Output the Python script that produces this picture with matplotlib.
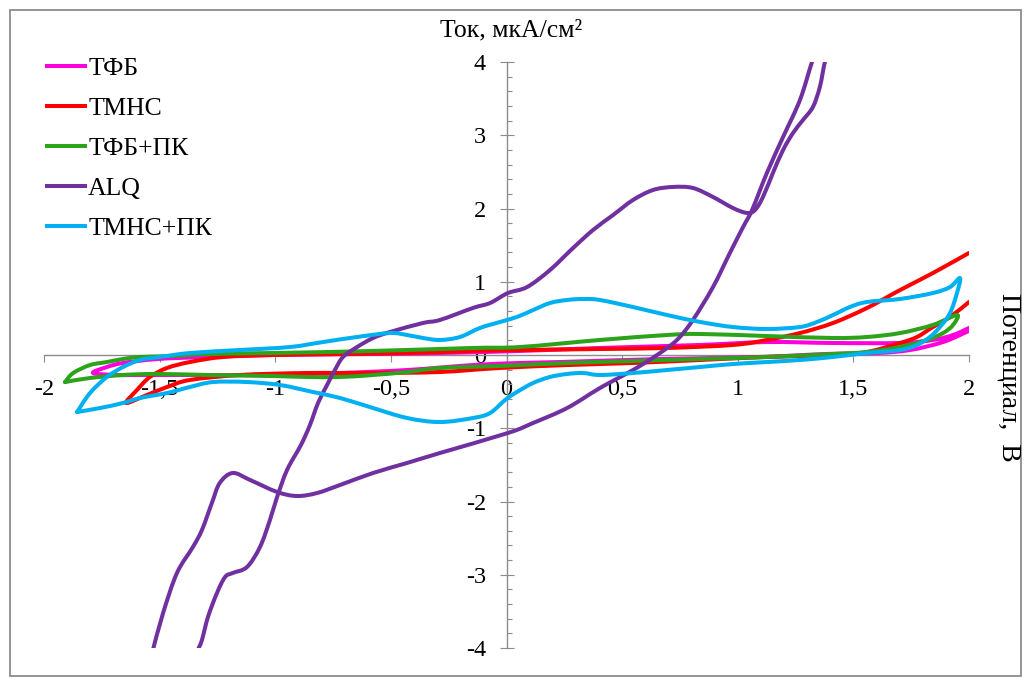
import matplotlib
matplotlib.use("Agg")
import numpy as np
import matplotlib.pyplot as plt
from matplotlib.patches import Rectangle, PathPatch
from matplotlib.path import Path
from matplotlib.lines import Line2D

plt.rcParams['font.family'] = ['Liberation Serif', 'DejaVu Serif']
plt.rcParams['axes.unicode_minus'] = False

# cyclic voltammograms, potential (V) vs current density (uA/cm2)
tfb_x = [2.0, 1.888, 1.745, 1.602, 1.386, 1.096, 0.664, 0.231, 0.058, -0.145, -0.430, -0.720,
         -1.009, -1.295, -1.585, -1.685, -1.788,
         -1.728, -1.658, -1.511, -1.295, -1.009, -0.577, -0.288, 0.058, 0.404, 0.837,
         1.126, 1.412, 1.702, 1.844, 1.931, 2.0]
tfb_y = [0.33, 0.177, 0.068, 0.027, 0.014, -0.027, -0.055, -0.096, -0.109, -0.137, -0.205, -0.246,
         -0.273, -0.273, -0.273, -0.273, -0.246,
         -0.164, -0.109, -0.055, -0.027, 0.0, 0.014, 0.027, 0.055, 0.096, 0.137,
         0.177, 0.164, 0.164, 0.205, 0.273, 0.369]

tmns_x = [2.0, 1.918, 1.844, 1.775, 1.702, 1.559, 1.412, 1.126, 0.837, 0.547, 0.262, -0.028,
          -0.288, -0.577, -0.863, -1.153, -1.369, -1.468, -1.555, -1.645,
          -1.598, -1.542, -1.468, -1.369, -1.226, -1.009, -0.720, -0.430, -0.145, 0.058,
          0.404, 0.694, 0.979, 1.126, 1.269, 1.412, 1.559, 1.702, 1.844, 2.0]
tmns_y = [0.724, 0.519, 0.382, 0.246, 0.164, 0.041, 0.0, -0.027, -0.068, -0.109, -0.137, -0.177,
          -0.232, -0.246, -0.246, -0.273, -0.341, -0.437, -0.546, -0.655,
          -0.478, -0.300, -0.177, -0.096, -0.027, 0.0, 0.014, 0.027, 0.055, 0.068,
          0.082, 0.096, 0.137, 0.205, 0.300, 0.437, 0.642, 0.887, 1.119, 1.393]

tfb_pk_x = [-1.909, -1.874, -1.801, -1.728, -1.658, -1.585, -1.442, -1.295, -1.009, -0.577, -0.145,
            0.058, 0.404, 0.694, 0.837, 1.126, 1.412, 1.559, 1.702, 1.844, 1.948,
            1.931, 1.888, 1.818, 1.702, 1.559, 1.412, 1.126, 0.837, 0.547, 0.262, -0.028,
            -0.288, -0.430, -0.577, -0.720, -0.863, -1.009, -1.295, -1.511, -1.658, -1.801, -1.909]
tfb_pk_y = [-0.369, -0.246, -0.137, -0.096, -0.055, -0.027, -0.014, 0.014, 0.027, 0.055, 0.096,
            0.109, 0.205, 0.273, 0.287, 0.259, 0.232, 0.246, 0.300, 0.410, 0.546,
            0.410, 0.300, 0.205, 0.109, 0.041, 0.014, -0.027, -0.055, -0.082, -0.109, -0.150,
            -0.177, -0.232, -0.273, -0.300, -0.300, -0.287, -0.273, -0.259, -0.273, -0.314, -0.369]

alq_x = [-1.529, -1.485, -1.425, -1.356, -1.317, -1.274, -1.240, -1.184, -1.109, -0.992, -0.906,
         -0.819, -0.720, -0.577, -0.430, -0.288, 0.006, 0.115, 0.262, 0.404, 0.547, 0.651,
         0.737, 0.806, 0.893, 0.966, 1.023, 1.062, 1.126, 1.196, 1.269, 1.321, 1.343,
         1.399, 1.377, 1.355, 1.325, 1.282, 1.239, 1.196, 1.152, 1.109, 1.075, 1.040, 0.979,
         0.893, 0.806, 0.720, 0.634, 0.547, 0.461, 0.374, 0.288, 0.188, 0.089, 0.006, -0.071,
         -0.145, -0.288, -0.361, -0.504, -0.577, -0.646, -0.707, -0.742, -0.776, -0.815,
         -0.850, -0.889, -0.949, -0.992, -1.023, -1.066, -1.122, -1.184, -1.217, -1.252,
         -1.291, -1.317, -1.334, -1.343]
alq_y = [-4.027, -3.522, -2.976, -2.621, -2.389, -2.020, -1.747, -1.611, -1.706, -1.870, -1.925,
         -1.884, -1.775, -1.611, -1.474, -1.338, -1.065, -0.928, -0.724, -0.451, -0.205, 0.0,
         0.205, 0.478, 0.928, 1.393, 1.747, 1.980, 2.485, 2.976, 3.481, 4.0, 4.16,
         4.16, 4.0, 3.659, 3.386, 3.208, 3.031, 2.799, 2.485, 2.157, 1.980, 1.939, 2.007,
         2.157, 2.280, 2.294, 2.253, 2.116, 1.911, 1.706, 1.461, 1.160, 0.928, 0.846, 0.710,
         0.642, 0.478, 0.437, 0.314, 0.232, 0.109, -0.027, -0.205, -0.410, -0.655,
         -0.956, -1.229, -1.570, -1.939, -2.253, -2.621, -2.894, -2.976, -3.031, -3.249,
         -3.577, -3.891, -4.027, -4.16]

tmns_pk_x = [-1.857, -1.801, -1.728, -1.658, -1.585, -1.498, -1.369, -1.153, -0.936, -0.794, -0.646,
             -0.504, -0.430, -0.361, -0.288, -0.201, -0.115, -0.028, 0.045, 0.115, 0.188, 0.262,
             0.331, 0.404, 0.547, 0.694, 0.837, 0.979, 1.126, 1.269, 1.343, 1.412, 1.485, 1.559,
             1.702, 1.844, 1.918, 1.961,
             1.948, 1.918, 1.874, 1.831, 1.775, 1.702, 1.559, 1.412, 1.269, 1.126, 0.979, 0.837,
             0.694, 0.547, 0.404, 0.331, 0.262, 0.188, 0.115, 0.045, -0.006, -0.071, -0.145,
             -0.288, -0.430, -0.577, -0.720, -0.837, -0.979, -1.122, -1.269, -1.369, -1.468,
             -1.585, -1.658, -1.758, -1.857]
tmns_pk_y = [-0.778, -0.519, -0.300, -0.164, -0.068, -0.027, 0.027, 0.068, 0.109, 0.177, 0.246,
             0.300, 0.273, 0.232, 0.205, 0.246, 0.369, 0.451, 0.519, 0.614, 0.710, 0.751,
             0.765, 0.751, 0.655, 0.546, 0.451, 0.382, 0.355, 0.382, 0.451, 0.546, 0.655, 0.724,
             0.765, 0.846, 0.928, 1.051,
             0.846, 0.573, 0.382, 0.246, 0.137, 0.068, 0.027, -0.027, -0.068, -0.096, -0.123, -0.164,
             -0.205, -0.246, -0.273, -0.246, -0.259, -0.300, -0.382, -0.505, -0.614, -0.792, -0.860,
             -0.915, -0.860, -0.724, -0.587, -0.505, -0.410, -0.369, -0.369, -0.437, -0.519,
             -0.587, -0.655, -0.724, -0.778]

series = [
    ('ТФБ', tfb_x, tfb_y, '#FF00DD'),
    ('ТМНС', tmns_x, tmns_y, '#FF0000'),
    ('ТФБ+ПК', tfb_pk_x, tfb_pk_y, '#2CA31A'),
    ('ALQ', alq_x, alq_y, '#7030A0'),
    ('ТМНС+ПК', tmns_pk_x, tmns_pk_y, '#00B0F0'),
]

x_ticks = [-2, -1.5, -1, -0.5, 0, 0.5, 1, 1.5, 2]
x_labels = ['-2', '-1,5', '-1', '-0,5', '0', '0,5', '1', '1,5', '2']
y_ticks = [-4, -3, -2, -1, 0, 1, 2, 3, 4]
y_labels = ['-4', '-3', '-2', '-1', '0', '1', '2', '3', '4']


def smooth_path(xs, ys):
    # smoothed line through the points (cubic Bezier segments, Catmull-Rom tangents)
    p = np.column_stack([xs, ys])
    n = len(p)
    verts = [p[0]]
    codes = [Path.MOVETO]
    for i in range(n - 1):
        p0 = p[max(i - 1, 0)]
        p1, p2 = p[i], p[i + 1]
        p3 = p[min(i + 2, n - 1)]
        verts += [p1 + (p2 - p0) / 6, p2 - (p3 - p1) / 6, p2]
        codes += [Path.CURVE4] * 3
    return Path(verts, codes)


fig = plt.figure(figsize=(10.26, 6.79), dpi=100)
fig.patches.append(Rectangle((10/1026, 3/679), 1011/1026, 666/679, transform=fig.transFigure,
                             fill=False, edgecolor='#8C8C8C', lw=1.3))
ax = fig.add_axes([44/1026, 1-648/679, 925/1026, 586/679])

handles = []
for name, xs, ys, c in series:
    ax.add_patch(PathPatch(smooth_path(xs, ys), fill=False, edgecolor=c, lw=2.9, zorder=3,
                           capstyle='round', joinstyle='round'))
    handles.append(Line2D([], [], color=c, lw=2.9, label=name))

ax.set_xlim(-2, 2)
ax.set_ylim(-4, 4)
for s in ['top', 'right']:
    ax.spines[s].set_visible(False)
for s in ['left', 'bottom']:
    ax.spines[s].set_position(('data', 0))
    ax.spines[s].set_color('#8C8C8C')
    ax.spines[s].set_linewidth(1.0)

ax.set_xticks(x_ticks)
ax.set_xticklabels(x_labels)
ax.set_yticks(y_ticks)
ax.set_yticklabels(y_labels)
ax.set_yticks([v/5 for v in range(-20, 21) if v % 5], minor=True)

ax.tick_params(axis='x', which='major', direction='out', length=5, width=0.8, color='#8C8C8C',
               labelsize=17.5, pad=12)
ax.tick_params(axis='y', which='major', direction='inout', length=9.5, width=0.8, color='#8C8C8C',
               labelsize=17.5, pad=10)
ax.tick_params(axis='y', which='minor', direction='in', length=3.6, width=0.8, color='#8C8C8C')

fig.text(511/1026, 1-30/679, 'Ток, мкА/см²', ha='center', va='center', fontsize=18.5)
fig.text(1009/1026, 1-377/679, 'Потенциал,  В', ha='center', va='center', fontsize=20, rotation=270)

ax.legend(handles=handles, loc='upper left', bbox_to_anchor=(47/1026, 1-57/679),
          bbox_transform=fig.transFigure, frameon=False, fontsize=18.5, handlelength=1.48,
          handletextpad=0.12, labelspacing=0.66, borderpad=0, borderaxespad=0)

fig.savefig('out.png', dpi=100)
